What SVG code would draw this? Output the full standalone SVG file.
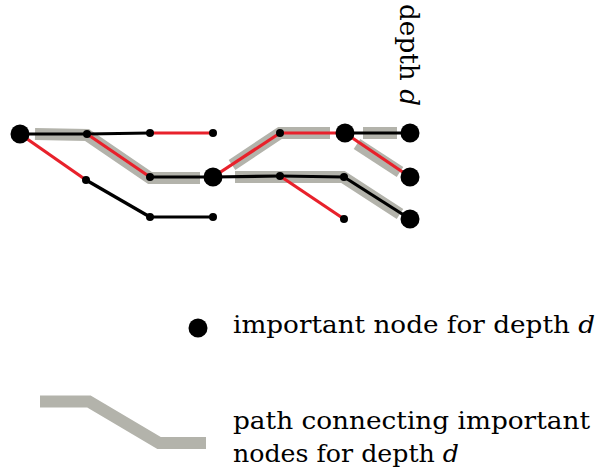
<svg xmlns="http://www.w3.org/2000/svg" width="601" height="476" viewBox="0 0 601 476">
<style>
.hl{fill:none;stroke:#b3b3ab;stroke-width:12;stroke-linejoin:miter;stroke-linecap:butt}
.bk{fill:none;stroke:#000;stroke-width:3.2}
.rd{fill:none;stroke:#e8212b;stroke-width:3.2}
.n{fill:#000}
.t{font-family:"DejaVu Serif","Liberation Serif",serif;font-size:25px;fill:#000}
.it{font-style:italic}
</style>
<rect width="601" height="476" fill="#fff"/>
<g id="highlights">
<path class="hl" d="M35,134 L87,135 L150,178 L200,178"/>
<path class="hl" d="M232,165 L280,133 L330,133"/>
<path class="hl" d="M363,133 L397,133"/>
<path class="hl" d="M357,144 L400,172"/>
<path class="hl" d="M235,177 L343,177 L400,214"/>
</g>
<g id="connectors">
<line class="bk" x1="20" y1="134" x2="87" y2="134"/>
<line class="bk" x1="87" y1="134" x2="150" y2="133"/>
<line class="rd" x1="150" y1="133" x2="213" y2="133"/>
<line class="rd" x1="20" y1="134" x2="86" y2="180"/>
<line class="bk" x1="86" y1="180" x2="150" y2="217"/>
<line class="bk" x1="150" y1="217" x2="213" y2="217"/>
<line class="rd" x1="87" y1="134" x2="150" y2="177"/>
<line class="bk" x1="150" y1="177" x2="213" y2="177"/>
<line class="rd" x1="213" y1="177" x2="280" y2="133"/>
<line class="rd" x1="280" y1="133" x2="345" y2="133"/>
<line class="bk" x1="345" y1="133" x2="410" y2="133"/>
<line class="rd" x1="345" y1="133" x2="410" y2="177"/>
<line class="bk" x1="213" y1="177" x2="280" y2="176"/>
<line class="bk" x1="280" y1="176" x2="344" y2="177"/>
<line class="rd" x1="280" y1="176" x2="344" y2="219"/>
<line class="bk" x1="344" y1="177" x2="410" y2="219"/>
</g>
<g id="nA"><circle class="n" cx="20" cy="134" r="9.5"/></g>
<g id="nB"><circle class="n" cx="87" cy="134" r="4"/></g>
<g id="nC"><circle class="n" cx="150" cy="133" r="4"/></g>
<g id="nD"><circle class="n" cx="213" cy="133" r="4"/></g>
<g id="nE"><circle class="n" cx="86" cy="180" r="4"/></g>
<g id="nF"><circle class="n" cx="150" cy="177" r="4"/></g>
<g id="nG"><circle class="n" cx="213" cy="177" r="9.5"/></g>
<g id="nH"><circle class="n" cx="150" cy="217" r="4"/></g>
<g id="nI"><circle class="n" cx="213" cy="217" r="4"/></g>
<g id="nJ"><circle class="n" cx="280" cy="133" r="4"/></g>
<g id="nK"><circle class="n" cx="345" cy="133" r="9.5"/></g>
<g id="nL"><circle class="n" cx="410" cy="133" r="9.5"/></g>
<g id="nM"><circle class="n" cx="280" cy="176" r="4"/></g>
<g id="nN"><circle class="n" cx="344" cy="177" r="4"/></g>
<g id="nO"><circle class="n" cx="344" cy="219" r="4"/></g>
<g id="nP"><circle class="n" cx="410" cy="177" r="9.5"/></g>
<g id="nQ"><circle class="n" cx="410" cy="219" r="9.5"/></g>
<g id="depth-label">
<text class="t" style="font-size:26px" transform="translate(400,4) rotate(90)" x="0" y="0" textLength="102" lengthAdjust="spacingAndGlyphs">depth <tspan class="it">d</tspan></text>
</g>
<g id="legend">
<circle class="n" cx="198" cy="328" r="9.5"/>
<text class="t" x="233" y="333" textLength="362" lengthAdjust="spacingAndGlyphs">important node for depth <tspan class="it">d</tspan></text>
<path class="hl" d="M40,401.5 L89,401.5 L159,443 L206,443"/>
<text class="t" x="233" y="429" textLength="357" lengthAdjust="spacingAndGlyphs">path connecting important</text>
<text class="t" x="233" y="462" textLength="226" lengthAdjust="spacingAndGlyphs">nodes for depth <tspan class="it">d</tspan></text>
</g>
</svg>
